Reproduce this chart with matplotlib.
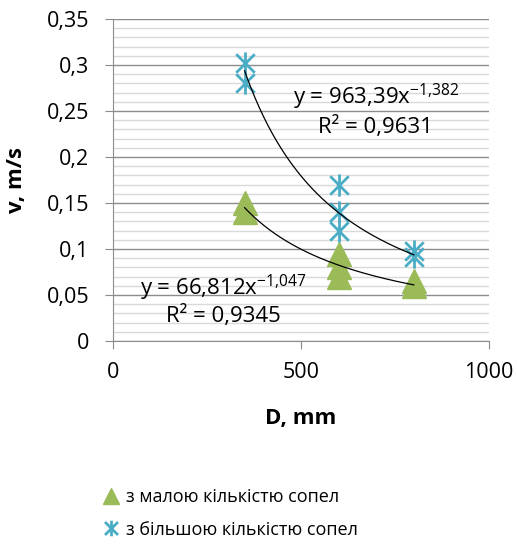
import matplotlib.pyplot as plt
import numpy as np
from matplotlib.path import Path

plt.rcParams['font.family'] = ['Open Sans', 'DejaVu Sans']

# Дані
d_small = [350, 350, 600, 600, 600, 800, 800]
v_small = [0.150, 0.140, 0.095, 0.080, 0.070, 0.065, 0.060]
d_big = [350, 350, 600, 600, 600, 800, 800]
v_big = [0.302, 0.280, 0.170, 0.140, 0.120, 0.098, 0.091]

# Коефіцієнти степеневих трендів y = a*x^b (з підписів)
a_small, b_small = 66.812, -1.047
a_big, b_big = 963.39, -1.382

y_ticks = [0, 0.05, 0.1, 0.15, 0.2, 0.25, 0.3, 0.35]
y_labels = ['0', '0,05', '0,1', '0,15', '0,2', '0,25', '0,3', '0,35']
x_ticks = [0, 500, 1000]
x_labels = ['0', '500', '1000']

green = '#9BBB59'
blue = '#4BACC6'

# маркер-зірочка як в Excel (X + вертикаль)
star = Path([(-1, -1), (1, 1), (-1, 1), (1, -1), (0, -1.2), (0, 1.2)],
            [Path.MOVETO, Path.LINETO, Path.MOVETO, Path.LINETO, Path.MOVETO, Path.LINETO])

fig = plt.figure(figsize=(5.17, 5.49), dpi=100)
ax = fig.add_axes([113/517, 208/549, 376/517, 322/549])

ax.set_xlim(0, 1000)
ax.set_ylim(0, 0.35)
ax.set_yticks(np.arange(0, 0.351, 0.01), minor=True)
ax.grid(which='minor', axis='y', color='#D9D9D9', lw=1)
ax.grid(which='major', axis='y', color='#8C8C8C', lw=1)
ax.set_axisbelow(True)
for s in ['top', 'right']:
    ax.spines[s].set_visible(False)
for s in ['left', 'bottom']:
    ax.spines[s].set_color('#8C8C8C')
ax.tick_params(which='minor', left=False)
ax.tick_params(which='major', color='#8C8C8C', length=6, labelsize=15.5)
ax.tick_params(axis='y', pad=11)
ax.tick_params(axis='x', pad=9)
ax.set_yticks(y_ticks, y_labels)
ax.set_xticks(x_ticks, x_labels)

# тренди
xs = np.linspace(350, 800, 200)
ax.plot(xs, a_big * xs**b_big, color='black', lw=0.9, zorder=3)
ax.plot(xs, a_small * xs**b_small, color='black', lw=0.9, zorder=3)

ax.plot(d_small, v_small, ls='none', marker='^', markersize=17, color=green,
        label='з малою кількістю сопел', zorder=2)
ax.plot(d_big, v_big, ls='none', marker=star, markersize=16, color=blue,
        markeredgewidth=2, markerfacecolor='none',
        label='з більшою кількістю сопел', zorder=2)

ax.text(699, 0.251, 'y = 963,39x$\\mathregular{^{-1{,}382}}$\nR² = 0,9631',
        ha='center', va='center', multialignment='center', fontsize=16, linespacing=1.25)
ax.text(293, 0.0446, 'y = 66,812x$\\mathregular{^{-1{,}047}}$\nR² = 0,9345',
        ha='center', va='center', multialignment='center', fontsize=16, linespacing=1.15)

ax.set_xlabel('D, mm', fontsize=16, fontweight='bold', labelpad=18)
ax.set_ylabel('v, m/s', fontsize=16, fontweight='bold', labelpad=14)

h, l = ax.get_legend_handles_labels()
leg = fig.legend(h, l, loc='upper left', bbox_to_anchor=(88/517, 1 - 472/549), frameon=False,
                 fontsize=13, handlelength=0.8, handletextpad=0.4, labelspacing=0.8,
                 markerscale=0.7)

fig.savefig('out.png', dpi=100)
